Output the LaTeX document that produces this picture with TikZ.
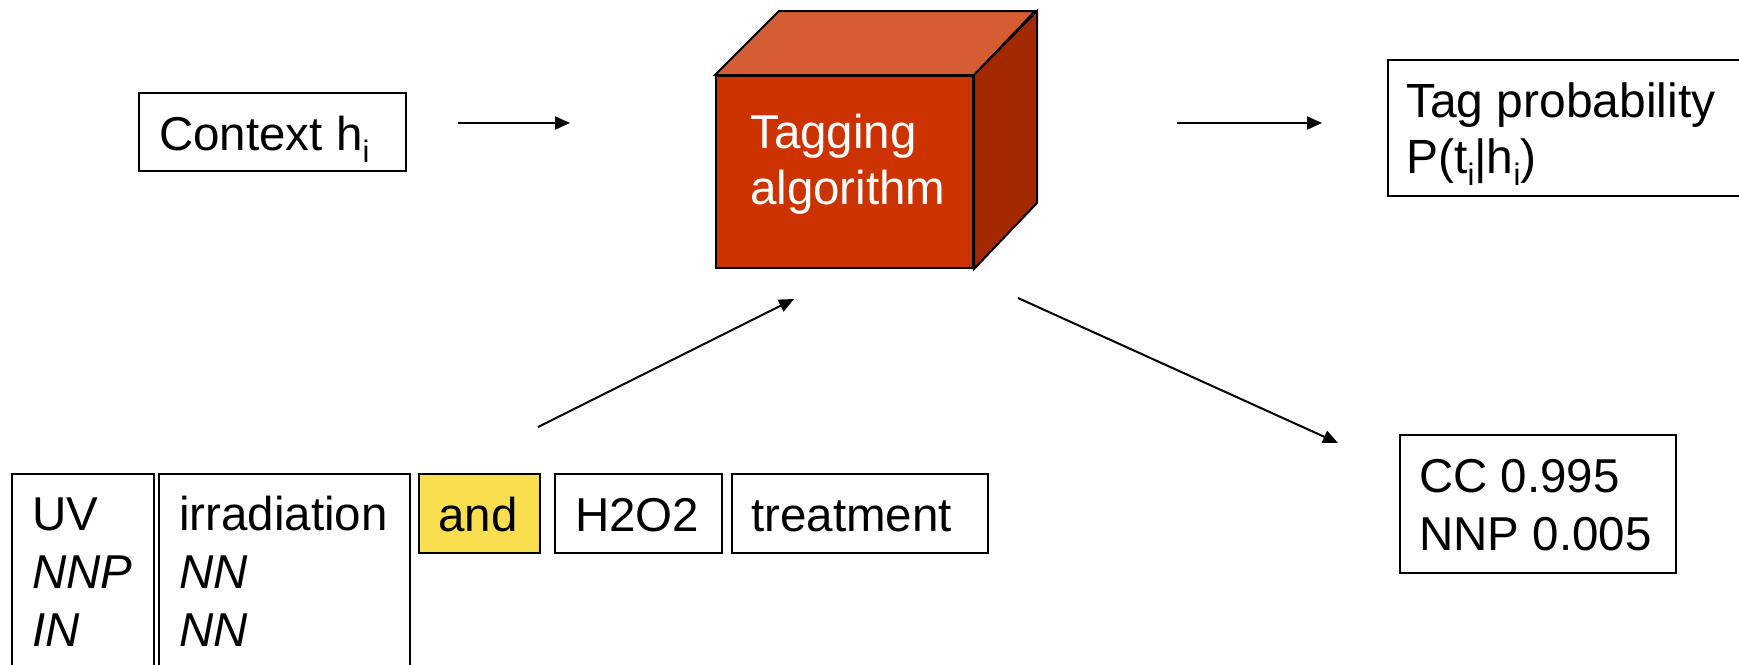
\documentclass[tikz,border=0pt]{standalone}
\usepackage{fontspec}
\setmainfont{Liberation Sans}
\usetikzlibrary{arrows.meta}
\definecolor{cubefront}{RGB}{204,51,0}
\definecolor{cubetop}{RGB}{214,92,51}
\definecolor{cubeside}{RGB}{163,41,0}
\definecolor{wordhl}{RGB}{249,222,80}
\newcommand{\subi}{\raisebox{-12pt}{\fontsize{31}{31}\selectfont i}}
\newcommand{\stacklines}[1]{\begin{tabular}[t]{@{}l@{}}#1\end{tabular}}
\begin{document}
\begin{tikzpicture}[x=1pt,y=-1pt,
  box/.style={draw=black,line width=2pt,inner sep=0pt,anchor=north west},
  txt/.style={inner sep=0pt,anchor=base west,font=\fontsize{47.5}{56}\selectfont},
  txtw/.style={inner sep=0pt,anchor=base west,font=\fontsize{47.5}{58}\selectfont},
  conn/.style={line width=2pt,-{Triangle[length=15pt,width=13pt]}},
  face/.style={draw=black,line width=2pt,line join=miter}]
\useasboundingbox (0,0) rectangle (1739,664);

% boxes
\node[box,minimum width=267pt,minimum height=78pt] (ctx) at (138,92) {};
\node[box,minimum width=360pt,minimum height=136pt] (tag) at (1387,59) {};
\node[box,minimum width=276pt,minimum height=138pt] (cc) at (1399,434) {};
\node[box,minimum width=142pt,minimum height=220pt] (uv) at (11,473) {};
\node[box,minimum width=251pt,minimum height=220pt] (irr) at (158,473) {};
\node[box,fill=wordhl,minimum width=121pt,minimum height=79pt] (and) at (418,473) {};
\node[box,minimum width=167pt,minimum height=79pt] (hoo) at (554,473) {};
\node[box,minimum width=256pt,minimum height=79pt] (treat) at (731,473) {};

% cube
\node[box,fill=cubefront,minimum width=257pt,minimum height=192pt] (algo) at (715,75) {};
\filldraw[face,fill=cubetop] (algo.north west) -- ++(64,-64) -- ++(256,0) -- (algo.north east) -- cycle;
\filldraw[face,fill=cubeside] (algo.north east) -- ++(63,-64) -- ++(0,192) -- (algo.south east) -- cycle;

% texts
\node[txt] (ctxt) at (159,150) {Context h\subi};
\node[txt,text=white] (algot) at (750,148) {\stacklines{Tagging\\algorithm}};
\node[txt,font=\fontsize{48}{56}\selectfont] (tagt) at (1406,117) {\stacklines{Tag probability\\P(t\subi|h\subi)}};
\node[txtw] (cct) at (1419,492) {\stacklines{CC 0.995\\NNP 0.005}};
\node[txtw] (uvt) at (32,530) {\stacklines{UV\\\itshape NNP\\\itshape IN}};
\node[txtw] (irrt) at (179,530) {\stacklines{irradiation\\\itshape NN\\\itshape NN}};
\node[txtw] (andt) at (438,531) {and};
\node[txtw] (hoot) at (575,531) {H2O2};
\node[txtw] (treatt) at (751,531) {treatment};

% connectors
\coordinate (a1s) at (458,123); \coordinate (a1e) at (570,123);
\coordinate (a2s) at (1177,123); \coordinate (a2e) at (1322,123);
\coordinate (a3s) at (538,427); \coordinate (a3e) at (794,299);
\coordinate (a4s) at (1018,298); \coordinate (a4e) at (1338,443);
\draw[conn] (a1s) -- (a1e);
\draw[conn] (a2s) -- (a2e);
\draw[conn] (a3s) -- (a3e);
\draw[conn] (a4s) -- (a4e);
\end{tikzpicture}
\end{document}
